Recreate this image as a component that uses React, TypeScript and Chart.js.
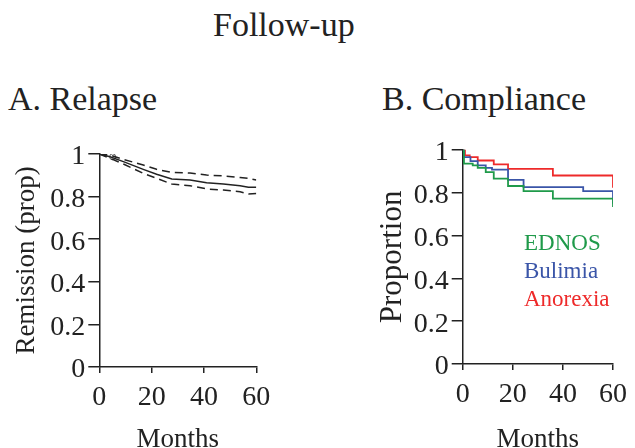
import React, { useEffect, useRef } from "react";
import { Chart, registerables } from "chart.js";

Chart.register(...registerables);

const SERIF = "'Liberation Serif', 'Times New Roman', serif";
const INK = "#222222";

// Shared axis ticks
const xTickStep = 20;
const xMax = 60;
const yTickStep = 0.2;

// Panel A: Relapse (Kaplan-Meier estimate with confidence bounds)
const relapseMonths = [0, 4.1, 9.2, 16.8, 21.9, 27.7, 34.7, 41, 47.4, 53.8, 57, 60];
const relapseEstimate = [1, 0.987, 0.964, 0.928, 0.905, 0.883, 0.878, 0.865, 0.859, 0.851, 0.844, 0.844];
const relapseUpper = [1, 0.995, 0.975, 0.948, 0.928, 0.914, 0.911, 0.901, 0.897, 0.89, 0.886, 0.878];
const relapseLower = [1, 0.98, 0.953, 0.909, 0.886, 0.859, 0.851, 0.836, 0.831, 0.823, 0.812, 0.815];
const censorMonths = [5.1];
const censorValues = [0.987];

// Panel B: Compliance by diagnosis (step curves)
const ednosMonths = [0, 0.5, 4, 6, 9.2, 12.4, 18.1, 24.3, 36, 60];
const ednosValues = [1, 0.935, 0.927, 0.916, 0.896, 0.865, 0.831, 0.807, 0.772, 0.733];
const bulimiaMonths = [0, 0.5, 3.1, 6, 9.2, 11.7, 18.1, 24.3, 48.1, 60];
const bulimiaValues = [1, 0.966, 0.947, 0.927, 0.916, 0.907, 0.86, 0.826, 0.807, 0.748];
const anorexiaMonths = [0, 0.9, 2.8, 6, 12.4, 18.1, 36, 60];
const anorexiaValues = [1, 0.974, 0.966, 0.95, 0.932, 0.911, 0.88, 0.823];

const groupNames = ["EDNOS", "Bulimia", "Anorexia"];
const groupColors = ["#1f9a4a", "#3a55a8", "#ee2a2a"];

const pts = (xs: number[], ys: number[]) => xs.map((x, i) => ({ x, y: ys[i] }));

type PanelCfg = {
  datasets: any[];
  yTitle: string;
  yTitleSize: number;
  yTitlePad: number;
  yWidth: number;
  xHeight: number;
  padTop: number;
  padRight: number;
};

function makeOptions(c: PanelCfg): any {
  return {
    responsive: false,
    animation: false,
    layout: { padding: { top: c.padTop, right: c.padRight, left: 0, bottom: 0 } },
    plugins: { legend: { display: false }, tooltip: { enabled: false }, title: { display: false } },
    scales: {
      x: {
        type: "linear",
        min: 0,
        max: xMax,
        afterFit: (s: any) => {
          s.height = c.xHeight;
        },
        ticks: {
          stepSize: xTickStep,
          color: INK,
          padding: 8,
          maxRotation: 0,
          font: { family: SERIF, size: 28 },
        },
        grid: { display: true, drawOnChartArea: false, drawTicks: true, tickLength: 6, color: INK, lineWidth: 1.5 },
        border: { display: true, color: INK, width: 1.5 },
        title: {
          display: true,
          text: "Months",
          color: INK,
          font: { family: SERIF, size: 27 },
          padding: { top: 0, bottom: 4 },
        },
      },
      y: {
        type: "linear",
        min: 0,
        max: 1,
        afterFit: (s: any) => {
          s.width = c.yWidth;
        },
        ticks: {
          stepSize: yTickStep,
          color: INK,
          padding: 3,
          labelOffset: 3,
          font: { family: SERIF, size: 28 },
          callback: (v: any) => String(Number(Number(v).toFixed(1))),
        },
        grid: { display: true, drawOnChartArea: false, drawTicks: true, tickLength: 11, color: INK, lineWidth: 1.5 },
        border: { display: true, color: INK, width: 1.5 },
        title: {
          display: true,
          text: c.yTitle,
          color: INK,
          font: { family: SERIF, size: c.yTitleSize },
          padding: { top: c.yTitlePad, bottom: 0 },
        },
      },
    },
  };
}

function Panel({ left, top, width, height, cfg }: { left: number; top: number; width: number; height: number; cfg: PanelCfg }) {
  const ref = useRef<HTMLCanvasElement | null>(null);
  useEffect(() => {
    if (!ref.current) return;
    const chart = new Chart(ref.current, {
      type: "line",
      data: { datasets: cfg.datasets },
      options: makeOptions(cfg),
    });
    return () => chart.destroy();
  }, []);
  return (
    <canvas
      ref={ref}
      width={width}
      height={height}
      style={{ position: "absolute", left, top, width, height }}
    />
  );
}

const panelA: PanelCfg = {
  datasets: [
    { data: pts(relapseMonths, relapseEstimate), borderColor: INK, borderWidth: 1.5, pointRadius: 0, tension: 0 },
    { data: pts(relapseMonths, relapseUpper), borderColor: INK, borderWidth: 1.5, borderDash: [8, 5], pointRadius: 0 },
    { data: pts(relapseMonths, relapseLower), borderColor: INK, borderWidth: 1.5, borderDash: [8, 5], pointRadius: 0 },
    {
      data: pts(censorMonths, censorValues),
      showLine: false,
      pointRadius: 3,
      pointStyle: "circle",
      borderColor: "#555",
      backgroundColor: "rgba(0,0,0,0)",
      borderWidth: 1,
    },
  ],
  yTitle: "Remission (prop)",
  yTitleSize: 27,
  yTitlePad: 11,
  yWidth: 99.3,
  xHeight: 93,
  padTop: 24,
  padRight: 43.7,
};

const panelB: PanelCfg = {
  datasets: [
    { data: pts(ednosMonths, ednosValues), borderColor: groupColors[0], borderWidth: 1.8, pointRadius: 0, stepped: true },
    { data: pts(bulimiaMonths, bulimiaValues), borderColor: groupColors[1], borderWidth: 1.8, pointRadius: 0, stepped: true },
    { data: pts(anorexiaMonths, anorexiaValues), borderColor: groupColors[2], borderWidth: 1.8, pointRadius: 0, stepped: true },
  ],
  yTitle: "Proportion",
  yTitleSize: 31,
  yTitlePad: 44,
  yWidth: 132.7,
  xHeight: 96,
  padTop: 19.3,
  padRight: 15.7,
};

const headStyle: React.CSSProperties = {
  position: "absolute",
  fontFamily: SERIF,
  fontSize: 34,
  lineHeight: "34px",
  color: INK,
  whiteSpace: "nowrap",
  margin: 0,
};

export default function App() {
  return (
    <div style={{ position: "absolute", left: 0, top: 0, width: 635, height: 448, overflow: "hidden", background: "#fff" }}>
      <div style={{ ...headStyle, left: 213, top: 8 }}>Follow-up</div>
      <div style={{ ...headStyle, left: 8, top: 81.5 }}>A. Relapse</div>
      <div style={{ ...headStyle, left: 382, top: 81.5 }}>B. Compliance</div>
      <Panel left={0} top={130} width={300} height={330} cfg={panelA} />
      <Panel left={330} top={130} width={305} height={330} cfg={panelB} />
      {groupNames.map((name, i) => (
        <div
          key={name}
          style={{
            position: "absolute",
            left: 524,
            top: 251.7 + i * 27.7 - 20.5,
            fontFamily: SERIF,
            fontSize: 23,
            lineHeight: "23px",
            color: groupColors[i],
            whiteSpace: "nowrap",
          }}
        >
          {name}
        </div>
      ))}
    </div>
  );
}
